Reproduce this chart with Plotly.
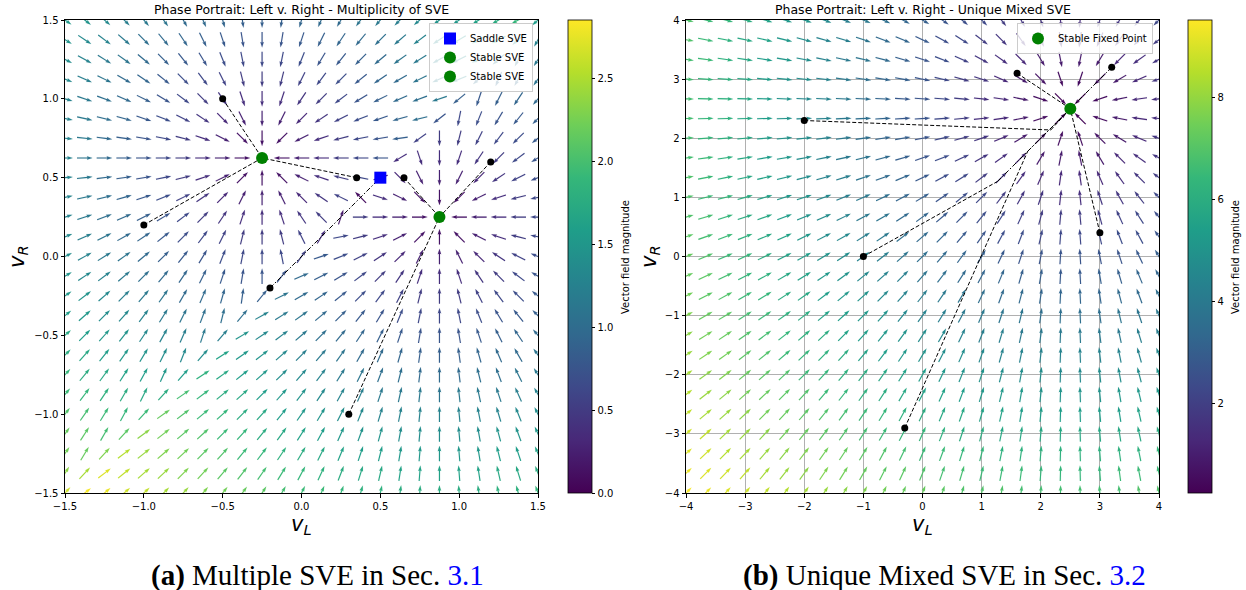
import numpy as np
import plotly.graph_objects as go
from plotly.colors import sample_colorscale

W, H = 1246, 590

# ---------------- data: panel (a) Multiplicity of SVE ----------------
a_ticks = [-1.5, -1.0, -0.5, 0.0, 0.5, 1.0, 1.5]
a_grid = np.linspace(-1.5, 1.5, 25)          # quiver sample positions
a_stable_x = [-0.25, 0.875]
a_stable_y = [0.625, 0.25]
a_saddle_x = [0.5]
a_saddle_y = [0.5]
a_traj_x = [[-0.5, -0.25], [-1.0, -0.25], [0.35, -0.25], [-0.2, 0.5],
            [0.65, 0.875], [1.2, 0.875], [0.3, 0.875]]
a_traj_y = [[1.0, 0.625], [0.2, 0.625], [0.5, 0.625], [-0.2, 0.5],
            [0.5, 0.25], [0.6, 0.25], [-1.0, 0.25]]
a_cbar_ticks = [0.0, 0.5, 1.0, 1.5, 2.0, 2.5]

# ---------------- data: panel (b) Unique Mixed SVE ----------------
b_ticks = [-4, -3, -2, -1, 0, 1, 2, 3, 4]
b_grid = np.linspace(-4, 4, 25)
b_fixed_x = [2.5]
b_fixed_y = [2.5]
b_rate = 1.035
b_traj_x = [[1.6, 2.5], [3.2, 2.5], [-2.0, 2.17, 2.5], [-1.0, 1.27, 2.5],
            [3.0, 2.5], [-0.3, 1.78, 2.5]]
b_traj_y = [[3.1, 2.5], [3.2, 2.5], [2.3, 2.14, 2.5], [0.0, 1.27, 2.5],
            [0.4, 2.5], [-2.9, 1.78, 2.5]]
b_cbar_ticks = [2, 4, 6, 8]

# ---------------- layout geometry (pixels) ----------------
TOP, BOT = 20, 493
AX_A = (65, 538)
AX_B = (686, 1159)
CB_A = 568
CB_B = 1188


def minus(s):
    return s.replace('-', '\u2212')


# vector fields (best-response dynamics toward the stable points)
def field_a(X, Y):
    U = np.zeros_like(X)
    V = np.zeros_like(Y)
    diag = np.isclose(X, Y)
    L = (Y > X) & ~diag
    R = (Y < X) & ~diag
    U[L] = a_stable_x[0] - X[L]
    V[L] = a_stable_y[0] - Y[L]
    U[R] = a_stable_x[1] - X[R]
    V[R] = a_stable_y[1] - Y[R]
    U[diag] = 0.5 * (a_stable_x[0] + a_stable_x[1]) - X[diag]
    V[diag] = 0.5 * (a_stable_y[0] + a_stable_y[1]) - Y[diag]
    return U, V


def field_b(X, Y):
    return b_rate * (b_fixed_x[0] - X), b_rate * (b_fixed_y[0] - Y)


def add_quiver(fig, X, Y, U, V, xa, ya, upx, cmin, cmax, nb=48):
    X = X.ravel(); Y = Y.ravel(); U = U.ravel(); V = V.ravel()
    mag = np.hypot(U, V)
    ok = mag > 1e-9
    X, Y, U, V, mag = X[ok], Y[ok], U[ok], V[ok], mag[ok]
    ux, uy = U / mag, V / mag
    Lr = 15.5 * upx
    w = 1.1 * upx
    hl, hal, hw = 5 * w, 4.5 * w, 3.2 * w
    sx = np.array([0, Lr - hal, Lr - hl, Lr, Lr - hl, Lr - hal, 0]) - Lr / 2
    sy = np.array([w / 2, w / 2, hw / 2, 0, -hw / 2, -w / 2, -w / 2])
    t = (mag - cmin) / (cmax - cmin)
    bins = np.clip((t * nb).astype(int), 0, nb - 1)
    for k in range(nb):
        idx = np.where(bins == k)[0]
        if len(idx) == 0:
            continue
        xs, ys = [], []
        for i in idx:
            px = X[i] + sx * ux[i] - sy * uy[i]
            py = Y[i] + sx * uy[i] + sy * ux[i]
            xs += list(px) + [None]
            ys += list(py) + [None]
        col = sample_colorscale('Viridis', [(k + 0.5) / nb])[0]
        fig.add_trace(go.Scatter(x=xs, y=ys, mode='lines', fill='toself',
                                 fillcolor=col, line=dict(color=col, width=0.1),
                                 hoverinfo='skip', showlegend=False,
                                 xaxis=xa, yaxis=ya))


def add_cbar(fig, x0, y0, xa, ya, cmin, cmax, ticks, fmt, cb_left):
    fig.add_trace(go.Scatter(
        x=[x0], y=[y0], mode='markers', hoverinfo='skip', showlegend=False,
        xaxis=xa, yaxis=ya,
        marker=dict(size=1, opacity=0, color=[cmin], cmin=cmin, cmax=cmax,
                    colorscale='Viridis', showscale=True,
                    colorbar=dict(x=cb_left / W, xanchor='left',
                                  y=1 - (TOP + BOT) / 2 / H, yanchor='middle',
                                  len=(BOT - TOP) / H, lenmode='fraction',
                                  thickness=24, thicknessmode='pixels',
                                  xpad=0, ypad=0, outlinewidth=0.8,
                                  outlinecolor='black', ticks='outside',
                                  ticklen=3.5, tickwidth=0.8, tickcolor='black',
                                  tickvals=ticks,
                                  ticktext=[fmt.format(v) for v in ticks],
                                  tickfont=dict(size=10, color='black')))))


def add_traj(fig, tx, ty, xa, ya):
    for xs, ys in zip(tx, ty):
        for j in range(len(xs) - 1):
            on_diag = np.isclose(xs[j], ys[j]) and np.isclose(xs[j + 1], ys[j + 1])
            dash = '5px,2px,1.5px,2px' if on_diag else '4px,2px'
            fig.add_trace(go.Scatter(x=xs[j:j + 2], y=ys[j:j + 2], mode='lines',
                                     line=dict(color='black', width=1, dash=dash),
                                     hoverinfo='skip', showlegend=False,
                                     xaxis=xa, yaxis=ya))
    fig.add_trace(go.Scatter(x=[xs[0] for xs in tx], y=[ys[0] for ys in ty],
                             mode='markers', marker=dict(color='black', size=7),
                             hoverinfo='skip', showlegend=False, xaxis=xa, yaxis=ya))


fig = go.Figure()

# ---- panel (a)
XA, YA = np.meshgrid(a_grid, a_grid)
UA, VA = field_a(XA, YA)
magA = np.hypot(UA, VA)
upx_a = (a_ticks[-1] - a_ticks[0]) / (AX_A[1] - AX_A[0])
add_quiver(fig, XA, YA, UA, VA, 'x', 'y', upx_a, magA.min(), magA.max())
add_cbar(fig, a_stable_x[0], a_stable_y[0], 'x', 'y', magA.min(), magA.max(),
         a_cbar_ticks, '{:.1f}', CB_A)
add_traj(fig, a_traj_x, a_traj_y, 'x', 'y')
fig.add_trace(go.Scatter(x=a_saddle_x, y=a_saddle_y, mode='markers', name='Saddle SVE',
                         marker=dict(symbol='square', size=12, color='blue'),
                         xaxis='x', yaxis='y', legend='legend'))
for i in range(2):
    fig.add_trace(go.Scatter(x=[a_stable_x[i]], y=[a_stable_y[i]], mode='markers',
                             name='Stable SVE', marker=dict(size=12, color='green'),
                             xaxis='x', yaxis='y', legend='legend'))

# ---- panel (b)
XB, YB = np.meshgrid(b_grid, b_grid)
UB, VB = field_b(XB, YB)
magB = np.hypot(UB, VB)
upx_b = (b_ticks[-1] - b_ticks[0]) / (AX_B[1] - AX_B[0])
add_quiver(fig, XB, YB, UB, VB, 'x2', 'y2', upx_b, magB.min(), magB.max())
add_cbar(fig, b_fixed_x[0], b_fixed_y[0], 'x2', 'y2', magB.min(), magB.max(),
         b_cbar_ticks, '{:d}', CB_B)
add_traj(fig, b_traj_x, b_traj_y, 'x2', 'y2')
fig.add_trace(go.Scatter(x=b_fixed_x, y=b_fixed_y, mode='markers', name='Stable Fixed Point',
                         marker=dict(size=12, color='green'),
                         xaxis='x2', yaxis='y2', legend='legend2'))

ax_common = dict(zeroline=False, showline=True, mirror=True, linecolor='black',
                 linewidth=1, ticks='outside', ticklen=3.5, tickwidth=0.8,
                 tickcolor='black', tickfont=dict(size=10, color='black'),
                 automargin=False)
ydom = [1 - BOT / H, 1 - TOP / H]
fig.update_layout(
    width=W, height=H, margin=dict(l=0, r=0, t=0, b=0, pad=0, autoexpand=False),
    paper_bgcolor='white', plot_bgcolor='white',
    font=dict(family='DejaVu Sans', size=10, color='black'),
    xaxis=dict(domain=[AX_A[0] / W, AX_A[1] / W], range=[a_ticks[0], a_ticks[-1]],
               tickvals=a_ticks, ticktext=[minus(f'{v:.1f}') for v in a_ticks],
               showgrid=False, anchor='y', **ax_common),
    yaxis=dict(domain=ydom, range=[a_ticks[0], a_ticks[-1]],
               tickvals=a_ticks, ticktext=[minus(f'{v:.1f}') for v in a_ticks],
               showgrid=False, anchor='x', **ax_common),
    xaxis2=dict(domain=[AX_B[0] / W, AX_B[1] / W], range=[b_ticks[0], b_ticks[-1]],
                tickvals=b_ticks, ticktext=[minus(str(v)) for v in b_ticks],
                showgrid=True, gridcolor='#b0b0b0', gridwidth=0.8, anchor='y2', **ax_common),
    yaxis2=dict(domain=ydom, range=[b_ticks[0], b_ticks[-1]],
                tickvals=b_ticks, ticktext=[minus(str(v)) for v in b_ticks],
                showgrid=True, gridcolor='#b0b0b0', gridwidth=0.8, anchor='x2', **ax_common),
    legend=dict(x=533 / W, xanchor='right', y=1 - 23 / H, yanchor='top',
                bgcolor='rgba(255,255,255,0.8)', bordercolor='#cccccc', borderwidth=1,
                font=dict(size=10), tracegroupgap=0),
    legend2=dict(x=1153 / W, xanchor='right', y=1 - 23 / H, yanchor='top',
                 bgcolor='rgba(255,255,255,0.8)', bordercolor='#cccccc', borderwidth=1,
                 font=dict(size=10)),
)

ann = []
for (x0, x1), title in [(AX_A, 'Phase Portrait: Left v. Right - Multiplicity of SVE'),
                        (AX_B, 'Phase Portrait: Left v. Right - Unique Mixed SVE')]:
    ann.append(dict(x=(x0 + x1) / 2 / W, y=1 - 10 / H, xref='paper', yref='paper',
                    text=title, showarrow=False, font=dict(size=12.5),
                    xanchor='center', yanchor='middle'))
    ann.append(dict(x=(x0 + x1) / 2 / W, y=1 - 525 / H, xref='paper', yref='paper',
                    text='<i>v</i><sub><i>L</i></sub>', showarrow=False,
                    font=dict(size=21), xanchor='center', yanchor='middle'))
for xc in (18, 650):
    ann.append(dict(x=xc / W, y=1 - 257 / H, xref='paper', yref='paper',
                    text='<i>v</i><sub><i>R</i></sub>', showarrow=False, textangle=-90,
                    font=dict(size=21), xanchor='center', yanchor='middle'))
for xc in (625, 1235):
    ann.append(dict(x=xc / W, y=1 - 257 / H, xref='paper', yref='paper',
                    text='Vector field magnitude', showarrow=False, textangle=-90,
                    font=dict(size=10), xanchor='center', yanchor='middle'))
for xc, cap in [(317, '<b>(a)</b> Multiple SVE in Sec. <span style="color:blue">3.1</span>'),
                (944, '<b>(b)</b> Unique Mixed SVE in Sec. <span style="color:blue">3.2</span>')]:
    ann.append(dict(x=xc / W, y=1 - 575 / H, xref='paper', yref='paper', text=cap,
                    showarrow=False, font=dict(size=29, family='Liberation Serif'),
                    xanchor='center', yanchor='middle'))
fig.update_layout(annotations=ann)

fig.write_html("out.html", config={'displayModeBar': False},
               post_script="document.body.style.margin='0';")
